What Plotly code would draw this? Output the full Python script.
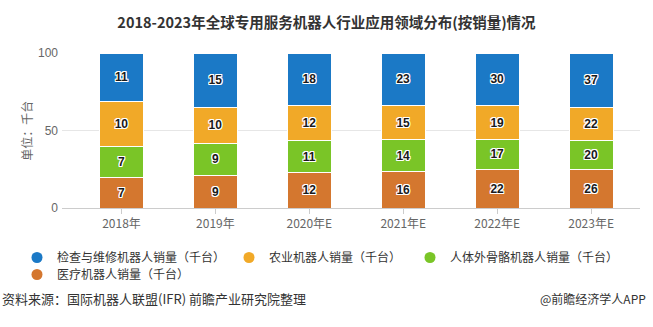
import plotly.graph_objects as go

years = ['2018年', '2019年', '2020年E', '2021年E', '2022年E', '2023年E']
inspection = [11, 15, 18, 23, 30, 37]
agri = [10, 10, 12, 15, 19, 22]
exo = [7, 9, 11, 14, 17, 20]
medical = [7, 9, 12, 16, 22, 26]

names = ['检查与维修机器人销量（千台）', '农业机器人销量（千台）',
         '人体外骨骼机器人销量（千台）', '医疗机器人销量（千台）']
colors = ['#1b79c6', '#f1a928', '#7ac527', '#d4772f']

title = '2018-2023年全球专用服务机器人行业应用领域分布(按销量)情况'
source = '资料来源：国际机器人联盟(IFR) 前瞻产业研究院整理'
credit = '@前瞻经济学人APP'
ytitle = '单位：千台'

FONT = 'Liberation Sans, Noto Sans CJK SC, sans-serif'
CJK = 'Noto Sans CJK SC, sans-serif'
shadow = '1px 1px 0 #fff, -1px -1px 0 #fff, 1px -1px 0 #fff, -1px 1px 0 #fff, 0 1px 0 #fff, 0 -1px 0 #fff, 1px 0 0 #fff, -1px 0 0 #fff'

fig = go.Figure()
series = [(medical, 3), (exo, 2), (agri, 1), (inspection, 0)]
for vals, idx in series:
    fig.add_trace(go.Bar(
        x=years, y=vals, text=vals, name=names[idx],
        marker=dict(color=colors[idx], line=dict(color='#ffffff', width=1)),
        textposition='inside', insidetextanchor='middle', textangle=0,
        constraintext='none',
        textfont=dict(family=FONT, size=12, color='#1a1a1a', weight='bold', shadow=shadow),
        showlegend=False,
    ))

# legend entries (circle symbols), one legend box per entry
legend_ids = ['legend', 'legend2', 'legend3', 'legend4']
for idx in range(4):
    fig.add_trace(go.Scatter(
        x=[None], y=[None], mode='markers', name=names[idx],
        marker=dict(color=colors[idx], size=11, symbol='circle'),
        legend=legend_ids[idx],
    ))

W, H = 653, 327
leg_pos = [(17, 243), (229, 243), (410, 243), (17, 260)]
leg_layout = {}
for lid, (lx, ly) in zip(legend_ids, leg_pos):
    leg_layout[lid] = dict(orientation='h', xref='container', yref='container',
                           x=lx / W, xanchor='left', y=1 - ly / H, yanchor='top',
                           font=dict(family=CJK, size=12, color='#333333'),
                           traceorder='normal', bgcolor='rgba(0,0,0,0)')

fig.update_layout(
    width=W, height=H,
    barmode='stack', barnorm='percent', bargap=0.53,
    paper_bgcolor='#ffffff', plot_bgcolor='#ffffff',
    margin=dict(l=62, r=13, t=53, b=119),
    font=dict(family=FONT, size=12, color='#666666'),
    title=dict(text=title, x=0.5, xref='container', xanchor='center',
               y=1 - 23 / H, yref='container', yanchor='middle',
               font=dict(family=CJK, size=14.5, color='#333333', weight='bold')),
    xaxis=dict(type='category', range=[-0.633, 5.52], showgrid=False,
               showline=True, linecolor='#cccccc', linewidth=1,
               ticks='outside', ticklen=5, tickcolor='#cccccc',
               tickfont=dict(family=CJK, size=12, color='#666666'),
               zeroline=False),
    yaxis=dict(range=[0, 100], tickvals=[0, 50, 100], showgrid=True,
               gridcolor='#e6e6e6', gridwidth=1, zeroline=False, showline=False,
               ticks='', ticklabelstandoff=3,
               tickfont=dict(family=FONT, size=12, color='#666666')),
    annotations=[
        dict(text=ytitle, xref='paper', yref='paper', x=-0.062, y=0.5,
             xanchor='center', yanchor='middle', textangle=-90, showarrow=False,
             font=dict(family=CJK, size=12, color='#666666')),
        dict(text=source, xref='paper', yref='paper', x=-62 / (W - 75), y=1 - (298 - 53) / (208 - 53),
             xanchor='left', yanchor='middle', showarrow=False,
             font=dict(family=CJK, size=13, color='#333333')),
        dict(text=credit, xref='paper', yref='paper', x=(648 - 62) / (W - 75), y=1 - (298 - 53) / (208 - 53),
             xanchor='right', yanchor='middle', showarrow=False,
             font=dict(family=CJK, size=12, color='#333333')),
    ],
    **leg_layout,
)

fig.write_html('out.html')
